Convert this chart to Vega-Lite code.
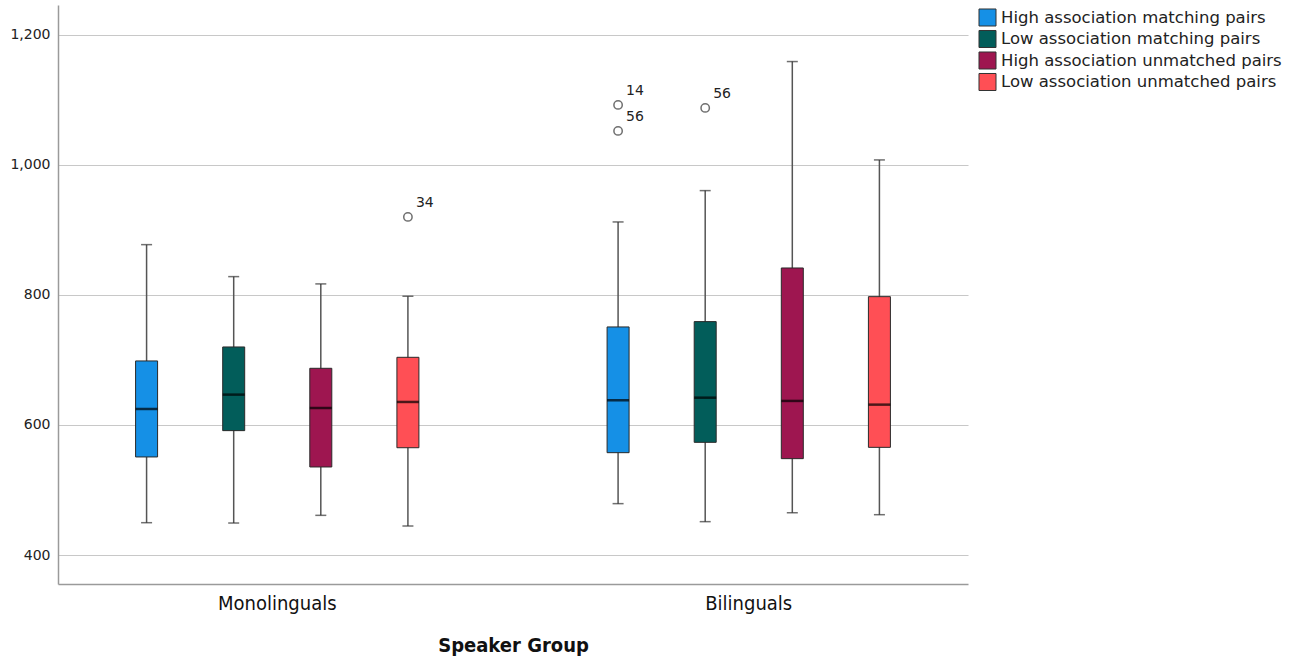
{
  "$schema": "https://vega.github.io/schema/vega-lite/v6.json",
  "width": 910,
  "height": 579,
  "autosize": {"type": "none"},
  "padding": {"left": 58, "top": 5, "right": 332, "bottom": 75},
  "background": "white",
  "config": {"view": {"stroke": null}},
  "datasets": {
    "boxes": [
      {"group": "Monolinguals", "cond": "High association matching pairs", "lower": 449.7, "q1": 550.8, "median": 624.6, "q3": 698.5, "upper": 877.4},
      {"group": "Monolinguals", "cond": "Low association matching pairs", "lower": 449.2, "q1": 591.3, "median": 646.7, "q3": 720.0, "upper": 828.2},
      {"group": "Monolinguals", "cond": "High association unmatched pairs", "lower": 461.0, "q1": 535.4, "median": 626.2, "q3": 687.2, "upper": 817.0},
      {"group": "Monolinguals", "cond": "Low association unmatched pairs", "lower": 444.6, "q1": 565.0, "median": 635.4, "q3": 704.1, "upper": 798.0},
      {"group": "Bilinguals", "cond": "High association matching pairs", "lower": 479.0, "q1": 557.4, "median": 638.0, "q3": 750.8, "upper": 912.3},
      {"group": "Bilinguals", "cond": "Low association matching pairs", "lower": 451.3, "q1": 573.3, "median": 642.0, "q3": 759.0, "upper": 960.5},
      {"group": "Bilinguals", "cond": "High association unmatched pairs", "lower": 465.0, "q1": 548.2, "median": 637.0, "q3": 841.5, "upper": 1159.0},
      {"group": "Bilinguals", "cond": "Low association unmatched pairs", "lower": 462.0, "q1": 565.6, "median": 631.3, "q3": 797.4, "upper": 1007.7}
    ],
    "outliers": [
      {"group": "Monolinguals", "cond": "Low association unmatched pairs", "value": 920.0, "label": "34"},
      {"group": "Bilinguals", "cond": "High association matching pairs", "value": 1092.3, "label": "14"},
      {"group": "Bilinguals", "cond": "High association matching pairs", "value": 1052.3, "label": "56"},
      {"group": "Bilinguals", "cond": "Low association matching pairs", "value": 1087.7, "label": "56"}
    ]
  },
  "encoding": {
    "x": {
      "field": "group",
      "type": "nominal",
      "sort": ["Monolinguals", "Bilinguals"],
      "scale": {"paddingInner": 0.261, "paddingOuter": 0.0955},
      "axis": {
        "title": "Speaker Group",
        "labelAngle": 0,
        "ticks": false,
        "labelFont": "DejaVu Sans Condensed, Roboto Condensed, Roboto",
        "labelFontSize": 20,
        "labelColor": "#111",
        "labelPadding": 9,
        "titleFont": "DejaVu Sans Condensed, Roboto Condensed, Roboto",
        "titleFontSize": 20,
        "titleFontWeight": "bold",
        "titleColor": "#111",
        "titlePadding": 22,
        "domainColor": "#9a9a9a",
        "domainWidth": 1.5,
        "grid": false
      }
    },
    "xOffset": {
      "field": "cond",
      "type": "nominal",
      "scale": {
        "domain": ["High association matching pairs", "Low association matching pairs", "High association unmatched pairs", "Low association unmatched pairs"],
        "paddingInner": 0,
        "paddingOuter": 0
      }
    }
  },
  "layer": [
    {
      "data": {"name": "boxes"},
      "mark": {"type": "rule", "color": "#555555", "strokeWidth": 1.5},
      "encoding": {
        "y": {
          "field": "lower",
          "type": "quantitative",
          "scale": {"domain": [355.4, 1246], "nice": false, "zero": false},
          "axis": {
            "title": null,
            "values": [400, 600, 800, 1000, 1200],
            "format": ",d",
            "ticks": false,
            "labelFont": "DejaVu Sans",
            "labelFontSize": 14,
            "labelColor": "#222",
            "labelPadding": 8,
            "grid": true,
            "gridColor": "#c8c8c8",
            "gridWidth": 1.2,
            "domainColor": "#9a9a9a",
            "domainWidth": 1.5
          }
        },
        "y2": {"field": "upper"}
      }
    },
    {
      "data": {"name": "boxes"},
      "mark": {"type": "tick", "color": "#333333", "size": 11, "thickness": 1.5},
      "encoding": {"y": {"field": "lower", "type": "quantitative"}}
    },
    {
      "data": {"name": "boxes"},
      "mark": {"type": "tick", "color": "#333333", "size": 11, "thickness": 1.5},
      "encoding": {"y": {"field": "upper", "type": "quantitative"}}
    },
    {
      "data": {"name": "boxes"},
      "mark": {"type": "bar", "size": 22, "stroke": "#2a2a2a", "strokeWidth": 1},
      "encoding": {
        "y": {"field": "q1", "type": "quantitative"},
        "y2": {"field": "q3"},
        "color": {
          "field": "cond",
          "type": "nominal",
          "scale": {
            "domain": ["High association matching pairs", "Low association matching pairs", "High association unmatched pairs", "Low association unmatched pairs"],
            "range": ["#1590E6", "#025D5A", "#9E1650", "#FF4F55"]
          },
          "legend": {
            "title": null,
            "orient": "none",
            "legendX": 920,
            "legendY": 3,
            "symbolType": "square",
            "symbolSize": 290,
            "symbolStrokeColor": "#333",
            "symbolStrokeWidth": 1,
            "symbolOpacity": 1,
            "labelFont": "DejaVu Sans",
            "labelFontSize": 16.5,
            "labelColor": "#222",
            "labelLimit": 400,
            "labelOffset": 4,
            "rowPadding": -1.5
          }
        }
      }
    },
    {
      "data": {"name": "boxes"},
      "mark": {"type": "tick", "color": "#000000", "size": 22, "thickness": 2.5},
      "encoding": {"y": {"field": "median", "type": "quantitative"}}
    },
    {
      "data": {"name": "outliers"},
      "mark": {"type": "point", "shape": "circle", "filled": false, "size": 70, "stroke": "#333", "strokeWidth": 1.5},
      "encoding": {"y": {"field": "value", "type": "quantitative"}}
    },
    {
      "data": {"name": "outliers"},
      "mark": {"type": "text", "align": "left", "baseline": "middle", "dx": 8, "dy": -14, "font": "DejaVu Sans", "fontSize": 14, "color": "#222"},
      "encoding": {
        "y": {"field": "value", "type": "quantitative"},
        "text": {"field": "label"}
      }
    }
  ]
}
